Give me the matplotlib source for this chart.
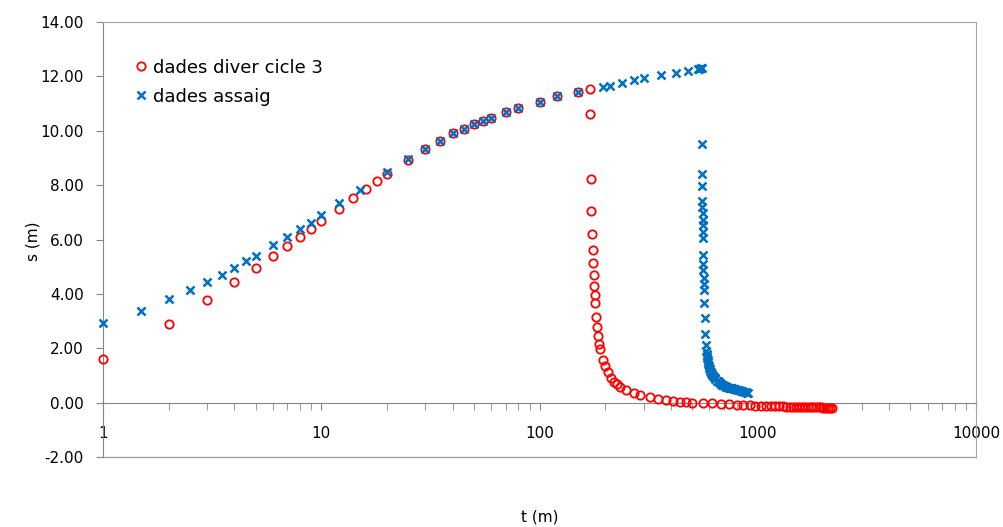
import numpy as np
import matplotlib
matplotlib.use("Agg")
import matplotlib.pyplot as plt
from matplotlib.ticker import FormatStrFormatter, LogLocator, NullFormatter

# dades diver cicle 3 (bombeig + recuperacio)
t_diver = [1, 2, 3, 4, 5, 6, 7, 8, 9, 10, 12, 14, 16, 18, 20, 25, 30, 35, 40, 45,
           50, 55, 60, 70, 80, 100, 120, 150, 170,
           171, 172, 173, 174, 175, 176, 177, 178, 179, 180, 182, 184, 186, 188, 190,
           195, 200, 206, 212, 219, 226, 234, 250, 270, 290, 320, 350, 380, 410, 440,
           470, 500, 560, 620, 680, 740, 800, 860, 920, 970, 1030, 1090,
           1150, 1200, 1250, 1300, 1350, 1400, 1450, 1500, 1550, 1600, 1650, 1700,
           1750, 1800, 1850, 1900, 1950, 2000, 2050, 2100, 2150, 2200]
s_diver = [1.60, 2.90, 3.79, 4.45, 4.94, 5.38, 5.76, 6.11, 6.38, 6.67, 7.14, 7.51, 7.87, 8.14, 8.40,
           8.94, 9.34, 9.64, 9.90, 10.08, 10.25, 10.37, 10.48, 10.70, 10.85, 11.07, 11.26, 11.44, 11.55,
           10.63, 8.24, 7.06, 6.22, 5.63, 5.15, 4.71, 4.30, 3.97, 3.68, 3.16, 2.79, 2.46, 2.17, 1.99,
           1.58, 1.36, 1.14, 0.92, 0.77, 0.70, 0.59, 0.48, 0.37, 0.29, 0.22, 0.15, 0.11, 0.07, 0.04,
           0.03, 0.00, -0.01, -0.03, -0.06, -0.06, -0.07, -0.09, -0.10, -0.11, -0.13, -0.13,
           -0.13, -0.14, -0.14, -0.14, -0.15, -0.15, -0.15, -0.15, -0.16, -0.16, -0.16, -0.16,
           -0.17, -0.17, -0.17, -0.17, -0.17, -0.18, -0.18, -0.18, -0.18, -0.18]

# dades assaig
t_assaig = [1, 1.5, 2, 2.5, 3, 3.5, 4, 4.5, 5, 6, 7, 8, 9, 10, 12, 15, 20, 25, 30, 35,
            40, 45, 50, 55, 60, 70, 80, 100, 120, 150, 195, 210, 240, 270, 300, 360,
            420, 480, 530, 540, 550, 555,
            556, 556.5, 557, 557.5, 558, 558.5, 559, 559.5, 560, 561, 562, 563, 564, 565,
            566, 567, 569, 571, 574, 578, 581,
            584, 586, 588, 590, 592, 594, 597, 600, 603, 606, 609, 612, 615, 620, 625,
            630, 635, 640, 648, 655, 662, 670, 678, 686, 695, 705, 715, 725, 735, 745,
            755, 765, 775, 790, 805, 820, 835, 850, 865, 880, 895, 905]
s_assaig = [2.92, 3.38, 3.80, 4.13, 4.45, 4.71, 4.95, 5.20, 5.38, 5.80, 6.08, 6.40, 6.62, 6.91,
            7.36, 7.83, 8.50, 8.97, 9.34, 9.64, 9.90, 10.08, 10.25, 10.37, 10.48, 10.70, 10.85,
            11.07, 11.26, 11.44, 11.60, 11.66, 11.77, 11.86, 11.93, 12.06, 12.14, 12.21, 12.27,
            12.28, 12.29, 12.30,
            9.53, 8.42, 7.98, 7.43, 7.20, 6.99, 6.73, 6.55, 6.29, 6.07, 5.44, 5.11, 4.89, 4.60,
            4.38, 4.16, 3.68, 3.13, 2.54, 2.13, 1.91,
            1.80, 1.72, 1.64, 1.57, 1.50, 1.43, 1.36, 1.29, 1.23, 1.18, 1.13, 1.10, 1.07, 1.02,
            0.98, 0.94, 0.91, 0.87, 0.81, 0.78, 0.75, 0.72, 0.69, 0.66, 0.63, 0.61, 0.59, 0.57,
            0.55, 0.54, 0.53, 0.52, 0.51, 0.49, 0.47, 0.45, 0.43, 0.42, 0.40, 0.39, 0.37, 0.36]

x_ticks = [1, 10, 100, 1000, 10000]
x_labels = ['1', '10', '100', '1000', '10000']
y_ticks = [-2, 0, 2, 4, 6, 8, 10, 12, 14]

fig = plt.figure(figsize=(10.04, 5.27), dpi=100)
ax = fig.add_axes([103 / 1004, 1 - 457 / 527, 873 / 1004, 435 / 527])

ax.plot(t_diver, s_diver, 'o', ls='none', mfc='none', mec='#ff0000', ms=6, mew=1.3,
        label='dades diver cicle 3', clip_on=False, zorder=3)
ax.plot(t_assaig, s_assaig, 'x', ls='none', color='#0070c0', ms=6, mew=1.8,
        label='dades assaig', clip_on=False, zorder=4)

ax.set_xscale('log')
ax.set_xlim(1, 10000)
ax.set_ylim(-2, 14)
ax.set_xticks(x_ticks, labels=x_labels)
ax.xaxis.set_minor_locator(LogLocator(base=10, subs=range(2, 10)))
ax.xaxis.set_minor_formatter(NullFormatter())
ax.set_yticks(y_ticks)
ax.yaxis.set_major_formatter(FormatStrFormatter('%.2f'))

axis_grey = '#868686'
frame_grey = '#a6a6a6'
ax.spines['bottom'].set_position(('data', 0))
ax.spines['bottom'].set_color(axis_grey)
ax.spines['left'].set_color(axis_grey)
ax.spines['top'].set_color(frame_grey)
ax.spines['right'].set_color(frame_grey)
ax.plot([0, 1], [0, 0], transform=ax.transAxes, color=frame_grey, lw=1, clip_on=False)

ax.tick_params(axis='x', which='both', direction='out', length=5, color=axis_grey,
               labelsize=11, pad=12)
ax.tick_params(axis='y', direction='out', length=5, color=axis_grey, labelsize=11, pad=9)

fig.text(540 / 1004, 1 - 517 / 527, 't (m)', ha='center', va='center', fontsize=11)
fig.text(33 / 1004, 1 - 241 / 527, 's (m)', ha='center', va='center', rotation=90, fontsize=11)

ax.legend(loc='upper left', bbox_to_anchor=(0.033, 0.916), frameon=False, fontsize=13,
          handlelength=1.0, handletextpad=0.2, borderpad=0, borderaxespad=0,
          labelspacing=0.62)

fig.savefig('out.png', dpi=100)
